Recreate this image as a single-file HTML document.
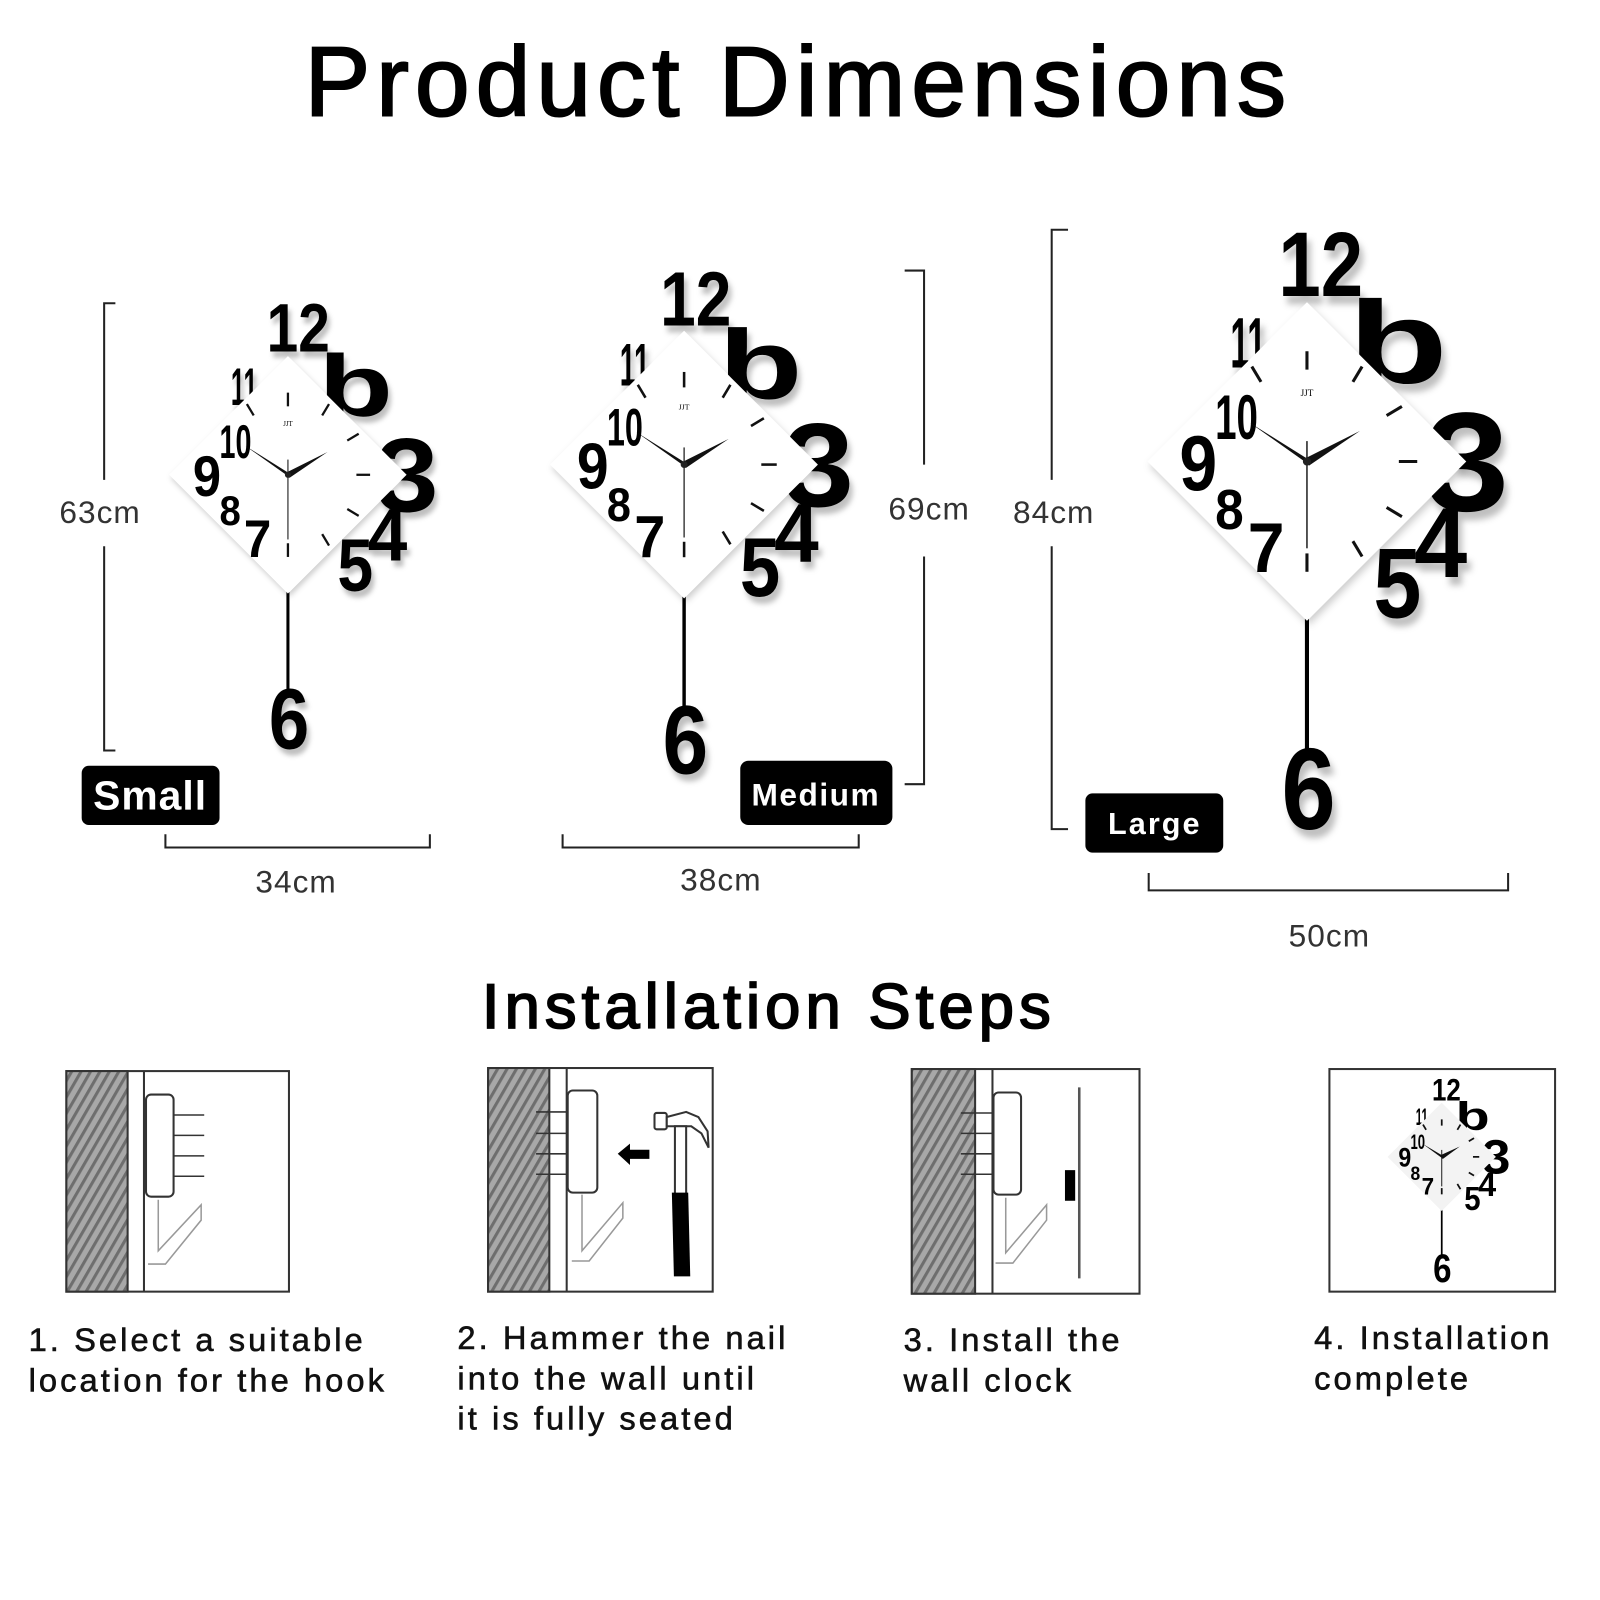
<!DOCTYPE html>
<html><head><meta charset="utf-8"><style>
html,body{margin:0;padding:0;background:#fff;width:1600px;height:1600px;overflow:hidden}
svg{display:block}
.cap{font-family:"Liberation Sans",sans-serif;font-size:32px;letter-spacing:3px;fill:#111;stroke:#111;stroke-width:0.6}
.dim{font-family:"Liberation Sans",sans-serif;font-size:31px;fill:#333;letter-spacing:1px}
.d{font-family:"Liberation Sans",sans-serif;font-weight:bold}
</style></head><body>
<svg width="1600" height="1600" viewBox="0 0 1567 1567" xmlns="http://www.w3.org/2000/svg">
<defs>
<filter id="sh" x="-20%" y="-20%" width="150%" height="150%"><feDropShadow dx="4" dy="8" stdDeviation="3" flood-color="#000" flood-opacity="0.25"/></filter>
<filter id="sh2" x="-20%" y="-20%" width="150%" height="150%"><feDropShadow dx="2" dy="4" stdDeviation="4" flood-color="#000" flood-opacity="0.2"/></filter>
<pattern id="hatch" width="8" height="8" patternUnits="userSpaceOnUse" patternTransform="rotate(30)">
<rect width="8" height="8" fill="#a8a8a8"/><rect width="3" height="8" fill="#6e6e6e"/></pattern>
</defs>
<rect width="1567" height="1567" fill="#fff"/>

<text x="782" y="113" text-anchor="middle" font-family="Liberation Sans,sans-serif" font-size="96" letter-spacing="6" fill="#000" stroke="#000" stroke-width="2">Product Dimensions</text>

<g transform="translate(282,465) scale(0.745)">
 <line x1="0" y1="150" x2="0" y2="285" stroke="#000" stroke-width="4"/>
 <g class="d" filter="url(#sh)">
  <text x="-28" y="-162" font-size="90" textLength="83" lengthAdjust="spacingAndGlyphs">12</text>
  <text x="-75" y="-92" font-size="70" textLength="35" lengthAdjust="spacingAndGlyphs">11</text>
  <text x="40" y="-77" font-size="115" textLength="98" lengthAdjust="spacingAndGlyphs">b</text>
  <text x="115" y="48" font-size="138" textLength="83" lengthAdjust="spacingAndGlyphs">3</text>
  <text x="105" y="113" font-size="97" textLength="52" lengthAdjust="spacingAndGlyphs">4</text>
  <text x="65" y="153" font-size="97" textLength="47" lengthAdjust="spacingAndGlyphs">5</text>
  <text x="-25" y="360" font-size="114" textLength="53" lengthAdjust="spacingAndGlyphs">6</text>
 </g>
 <polygon points="0,-156 156,0 0,156 -156,0" fill="#fff" filter="url(#sh2)"/>
 <g stroke="#111" stroke-width="3">
  <line x1="0" y1="-90" x2="0" y2="-108"/><line x1="45" y1="-78" x2="54" y2="-93"/><line x1="78" y1="-45" x2="93" y2="-54"/>
  <line x1="90" y1="0" x2="108" y2="0"/><line x1="78" y1="45" x2="93" y2="54"/><line x1="45" y1="78" x2="54" y2="93"/>
  <line x1="0" y1="90" x2="0" y2="108"/><line x1="-45" y1="-78" x2="-54" y2="-93"/>
 </g>
 <g class="d">
  <text x="-90" y="-22" font-size="62" textLength="42" lengthAdjust="spacingAndGlyphs">10</text>
  <text x="-125" y="28" font-size="76" textLength="37" lengthAdjust="spacingAndGlyphs">9</text>
  <text x="-90" y="66" font-size="55" textLength="28" lengthAdjust="spacingAndGlyphs">8</text>
  <text x="-58" y="108" font-size="69" textLength="36" lengthAdjust="spacingAndGlyphs">7</text>
 </g>
 <text x="0" y="-64" font-size="9" text-anchor="middle" font-family="Liberation Serif,serif">JJT</text>
 <line x1="0" y1="-20" x2="0" y2="85" stroke="#222" stroke-width="1.5"/>
 <polygon points="0,-3 -56,-38 2,3" fill="#111"/>
 <polygon points="-2,-3 52,-30 2,4" fill="#111"/>
 <circle r="4" fill="#222"/>
</g>

<g transform="translate(670,455) scale(0.84)">
 <line x1="0" y1="150" x2="0" y2="285" stroke="#000" stroke-width="4"/>
 <g class="d" filter="url(#sh)">
  <text x="-28" y="-162" font-size="90" textLength="83" lengthAdjust="spacingAndGlyphs">12</text>
  <text x="-75" y="-92" font-size="70" textLength="35" lengthAdjust="spacingAndGlyphs">11</text>
  <text x="40" y="-77" font-size="115" textLength="98" lengthAdjust="spacingAndGlyphs">b</text>
  <text x="115" y="48" font-size="138" textLength="83" lengthAdjust="spacingAndGlyphs">3</text>
  <text x="105" y="113" font-size="97" textLength="52" lengthAdjust="spacingAndGlyphs">4</text>
  <text x="65" y="153" font-size="97" textLength="47" lengthAdjust="spacingAndGlyphs">5</text>
  <text x="-25" y="360" font-size="114" textLength="53" lengthAdjust="spacingAndGlyphs">6</text>
 </g>
 <polygon points="0,-156 156,0 0,156 -156,0" fill="#fff" filter="url(#sh2)"/>
 <g stroke="#111" stroke-width="3">
  <line x1="0" y1="-90" x2="0" y2="-108"/><line x1="45" y1="-78" x2="54" y2="-93"/><line x1="78" y1="-45" x2="93" y2="-54"/>
  <line x1="90" y1="0" x2="108" y2="0"/><line x1="78" y1="45" x2="93" y2="54"/><line x1="45" y1="78" x2="54" y2="93"/>
  <line x1="0" y1="90" x2="0" y2="108"/><line x1="-45" y1="-78" x2="-54" y2="-93"/>
 </g>
 <g class="d">
  <text x="-90" y="-22" font-size="62" textLength="42" lengthAdjust="spacingAndGlyphs">10</text>
  <text x="-125" y="28" font-size="76" textLength="37" lengthAdjust="spacingAndGlyphs">9</text>
  <text x="-90" y="66" font-size="55" textLength="28" lengthAdjust="spacingAndGlyphs">8</text>
  <text x="-58" y="108" font-size="69" textLength="36" lengthAdjust="spacingAndGlyphs">7</text>
 </g>
 <text x="0" y="-64" font-size="9" text-anchor="middle" font-family="Liberation Serif,serif">JJT</text>
 <line x1="0" y1="-20" x2="0" y2="85" stroke="#222" stroke-width="1.5"/>
 <polygon points="0,-3 -56,-38 2,3" fill="#111"/>
 <polygon points="-2,-3 52,-30 2,4" fill="#111"/>
 <circle r="4" fill="#222"/>
</g>

<g transform="translate(1280,452) scale(1)">
 <line x1="0" y1="150" x2="0" y2="285" stroke="#000" stroke-width="4"/>
 <g class="d" filter="url(#sh)">
  <text x="-28" y="-162" font-size="90" textLength="83" lengthAdjust="spacingAndGlyphs">12</text>
  <text x="-75" y="-92" font-size="70" textLength="35" lengthAdjust="spacingAndGlyphs">11</text>
  <text x="40" y="-77" font-size="115" textLength="98" lengthAdjust="spacingAndGlyphs">b</text>
  <text x="115" y="48" font-size="138" textLength="83" lengthAdjust="spacingAndGlyphs">3</text>
  <text x="105" y="113" font-size="97" textLength="52" lengthAdjust="spacingAndGlyphs">4</text>
  <text x="65" y="153" font-size="97" textLength="47" lengthAdjust="spacingAndGlyphs">5</text>
  <text x="-25" y="360" font-size="114" textLength="53" lengthAdjust="spacingAndGlyphs">6</text>
 </g>
 <polygon points="0,-156 156,0 0,156 -156,0" fill="#fff" filter="url(#sh2)"/>
 <g stroke="#111" stroke-width="3">
  <line x1="0" y1="-90" x2="0" y2="-108"/><line x1="45" y1="-78" x2="54" y2="-93"/><line x1="78" y1="-45" x2="93" y2="-54"/>
  <line x1="90" y1="0" x2="108" y2="0"/><line x1="78" y1="45" x2="93" y2="54"/><line x1="45" y1="78" x2="54" y2="93"/>
  <line x1="0" y1="90" x2="0" y2="108"/><line x1="-45" y1="-78" x2="-54" y2="-93"/>
 </g>
 <g class="d">
  <text x="-90" y="-22" font-size="62" textLength="42" lengthAdjust="spacingAndGlyphs">10</text>
  <text x="-125" y="28" font-size="76" textLength="37" lengthAdjust="spacingAndGlyphs">9</text>
  <text x="-90" y="66" font-size="55" textLength="28" lengthAdjust="spacingAndGlyphs">8</text>
  <text x="-58" y="108" font-size="69" textLength="36" lengthAdjust="spacingAndGlyphs">7</text>
 </g>
 <text x="0" y="-64" font-size="9" text-anchor="middle" font-family="Liberation Serif,serif">JJT</text>
 <line x1="0" y1="-20" x2="0" y2="85" stroke="#222" stroke-width="1.5"/>
 <polygon points="0,-3 -56,-38 2,3" fill="#111"/>
 <polygon points="-2,-3 52,-30 2,4" fill="#111"/>
 <circle r="4" fill="#222"/>
</g>

<g fill="none" stroke="#222" stroke-width="2">
 <polyline points="113,297 102,297 102,470"/><polyline points="102,535 102,735 113,735"/>
 <polyline points="162,817 162,830 421,830 421,817"/>
 <polyline points="886,265 905,265 905,455"/><polyline points="905,545 905,768 886,768"/>
 <polyline points="551,817 551,830 841,830 841,817"/>
 <polyline points="1046,225 1030,225 1030,470"/><polyline points="1030,535 1030,812 1046,812"/>
 <polyline points="1125,855 1125,872 1477,872 1477,855"/>
</g>
<text class="dim" x="98" y="512" text-anchor="middle">63cm</text>
<text class="dim" x="290" y="874" text-anchor="middle">34cm</text>
<text class="dim" x="910" y="509" text-anchor="middle">69cm</text>
<text class="dim" x="706" y="872" text-anchor="middle">38cm</text>
<text class="dim" x="1032" y="512" text-anchor="middle">84cm</text>
<text class="dim" x="1302" y="927" text-anchor="middle">50cm</text>

<rect x="80" y="750" width="135" height="58" rx="7" fill="#000"/>
<text x="147" y="793" text-anchor="middle" fill="#fff" font-family="Liberation Sans,sans-serif" font-weight="bold" font-size="40" letter-spacing="1">Small</text>
<rect x="725" y="745" width="149" height="63" rx="8" fill="#000"/>
<text x="799" y="789" text-anchor="middle" fill="#fff" font-family="Liberation Sans,sans-serif" font-weight="bold" font-size="31" letter-spacing="1.5">Medium</text>
<rect x="1063" y="777" width="135" height="58" rx="7" fill="#000"/>
<text x="1131" y="817" text-anchor="middle" fill="#fff" font-family="Liberation Sans,sans-serif" font-weight="bold" font-size="30" letter-spacing="2">Large</text>

<text x="753" y="1007" text-anchor="middle" font-family="Liberation Sans,sans-serif" font-size="62" letter-spacing="5" fill="#000" stroke="#000" stroke-width="1.8">Installation Steps</text>

<g stroke="#333" stroke-width="2" fill="none">
 <rect x="65" y="1049" width="218" height="216" fill="#fff"/>
 <rect x="65" y="1049" width="60" height="216" fill="url(#hatch)"/>
 <line x1="141" y1="1049" x2="141" y2="1265"/>
 <rect x="143" y="1072" width="27" height="100" rx="5"/>
 <g stroke-width="1.5"><line x1="170" y1="1092" x2="200" y2="1092"/><line x1="170" y1="1112" x2="200" y2="1112"/><line x1="170" y1="1132" x2="200" y2="1132"/><line x1="170" y1="1152" x2="200" y2="1152"/></g>
 <polyline stroke="#999" stroke-width="1.5" points="155,1175 155,1225 197,1180 197,1195 162,1238 145,1238"/>
</g>
<g stroke="#333" stroke-width="2" fill="none">
 <rect x="478" y="1046" width="220" height="219" fill="#fff"/>
 <rect x="478" y="1046" width="60" height="219" fill="url(#hatch)"/>
 <line x1="555" y1="1046" x2="555" y2="1265"/>
 <rect x="556" y="1068" width="29" height="100" rx="5"/>
 <g stroke-width="1.5"><line x1="525" y1="1089" x2="556" y2="1089"/><line x1="525" y1="1110" x2="556" y2="1110"/><line x1="525" y1="1130" x2="556" y2="1130"/><line x1="525" y1="1150" x2="556" y2="1150"/></g>
 <polyline stroke="#999" stroke-width="1.5" points="570,1170 570,1225 610,1178 610,1193 577,1235 560,1235"/>
</g>
<polygon points="605,1130 617,1120 617,1126 636,1126 636,1135 617,1135 617,1141" fill="#000"/>
<g>
 <rect x="641" y="1090" width="12" height="16" rx="2" fill="#fff" stroke="#333" stroke-width="2"/>
 <path d="M653,1094 L672,1089 L684,1094 L693,1108 L694,1124 L687,1110 L677,1103 L666,1103 L653,1103 Z" fill="#fff" stroke="#333" stroke-width="2"/>
 <rect x="661" y="1103" width="11" height="67" fill="#fff" stroke="#333" stroke-width="2"/>
 <path d="M658,1168 L674,1168 L676,1250 L660,1250 Z" fill="#000"/>
</g>
<g stroke="#333" stroke-width="2" fill="none">
 <rect x="893" y="1047" width="223" height="220" fill="#fff"/>
 <rect x="893" y="1047" width="62" height="220" fill="url(#hatch)"/>
 <line x1="972" y1="1047" x2="972" y2="1267"/>
 <rect x="973" y="1070" width="27" height="100" rx="5"/>
 <g stroke-width="1.5"><line x1="941" y1="1090" x2="973" y2="1090"/><line x1="941" y1="1110" x2="973" y2="1110"/><line x1="941" y1="1130" x2="973" y2="1130"/><line x1="941" y1="1150" x2="973" y2="1150"/></g>
 <polyline stroke="#999" stroke-width="1.5" points="985,1173 985,1227 1025,1180 1025,1195 992,1237 975,1237"/>
 <line x1="1057" y1="1065" x2="1057" y2="1252" stroke="#555" stroke-width="2.5"/>
</g>
<rect x="1043" y="1146" width="10" height="30" fill="#000"/>
<rect x="1302" y="1047" width="221" height="218" fill="#fff" stroke="#333" stroke-width="2"/>
<g transform="translate(1412,1133) scale(0.34)">
 <line x1="0" y1="150" x2="0" y2="285" stroke="#000" stroke-width="5"/>
 <g class="d">
  <text x="-28" y="-162" font-size="90" textLength="83" lengthAdjust="spacingAndGlyphs">12</text>
  <text x="-75" y="-92" font-size="70" textLength="35" lengthAdjust="spacingAndGlyphs">11</text>
  <text x="40" y="-77" font-size="115" textLength="98" lengthAdjust="spacingAndGlyphs">b</text>
  <text x="115" y="48" font-size="138" textLength="83" lengthAdjust="spacingAndGlyphs">3</text>
  <text x="105" y="113" font-size="97" textLength="52" lengthAdjust="spacingAndGlyphs">4</text>
  <text x="65" y="153" font-size="97" textLength="47" lengthAdjust="spacingAndGlyphs">5</text>
  <text x="-25" y="360" font-size="114" textLength="53" lengthAdjust="spacingAndGlyphs">6</text>
 </g>
 <polygon points="0,-156 156,0 0,156 -156,0" fill="#f3f3f3"/>
 <g stroke="#111" stroke-width="5">
  <line x1="0" y1="-90" x2="0" y2="-108"/><line x1="45" y1="-78" x2="54" y2="-93"/><line x1="78" y1="-45" x2="93" y2="-54"/>
  <line x1="90" y1="0" x2="108" y2="0"/><line x1="78" y1="45" x2="93" y2="54"/><line x1="45" y1="78" x2="54" y2="93"/>
  <line x1="0" y1="90" x2="0" y2="108"/><line x1="-45" y1="-78" x2="-54" y2="-93"/>
 </g>
 <g class="d">
  <text x="-90" y="-22" font-size="62" textLength="42" lengthAdjust="spacingAndGlyphs">10</text>
  <text x="-125" y="28" font-size="76" textLength="37" lengthAdjust="spacingAndGlyphs">9</text>
  <text x="-90" y="66" font-size="55" textLength="28" lengthAdjust="spacingAndGlyphs">8</text>
  <text x="-58" y="108" font-size="69" textLength="36" lengthAdjust="spacingAndGlyphs">7</text>
 </g>
 <line x1="0" y1="-20" x2="0" y2="85" stroke="#222" stroke-width="3"/>
 <polygon points="0,-5 -56,-38 3,5" fill="#111"/>
 <polygon points="-3,-5 52,-30 3,6" fill="#111"/>
</g>

<text class="cap" x="28" y="1323">1. Select a suitable</text>
<text class="cap" x="28" y="1363">location for the hook</text>
<text class="cap" x="448" y="1321">2. Hammer the nail</text>
<text class="cap" x="448" y="1361">into the wall until</text>
<text class="cap" x="448" y="1400">it is fully seated</text>
<text class="cap" x="885" y="1323">3. Install the</text>
<text class="cap" x="885" y="1363">wall clock</text>
<text class="cap" x="1287" y="1321">4. Installation</text>
<text class="cap" x="1287" y="1361">complete</text>
</svg>
</body></html>
